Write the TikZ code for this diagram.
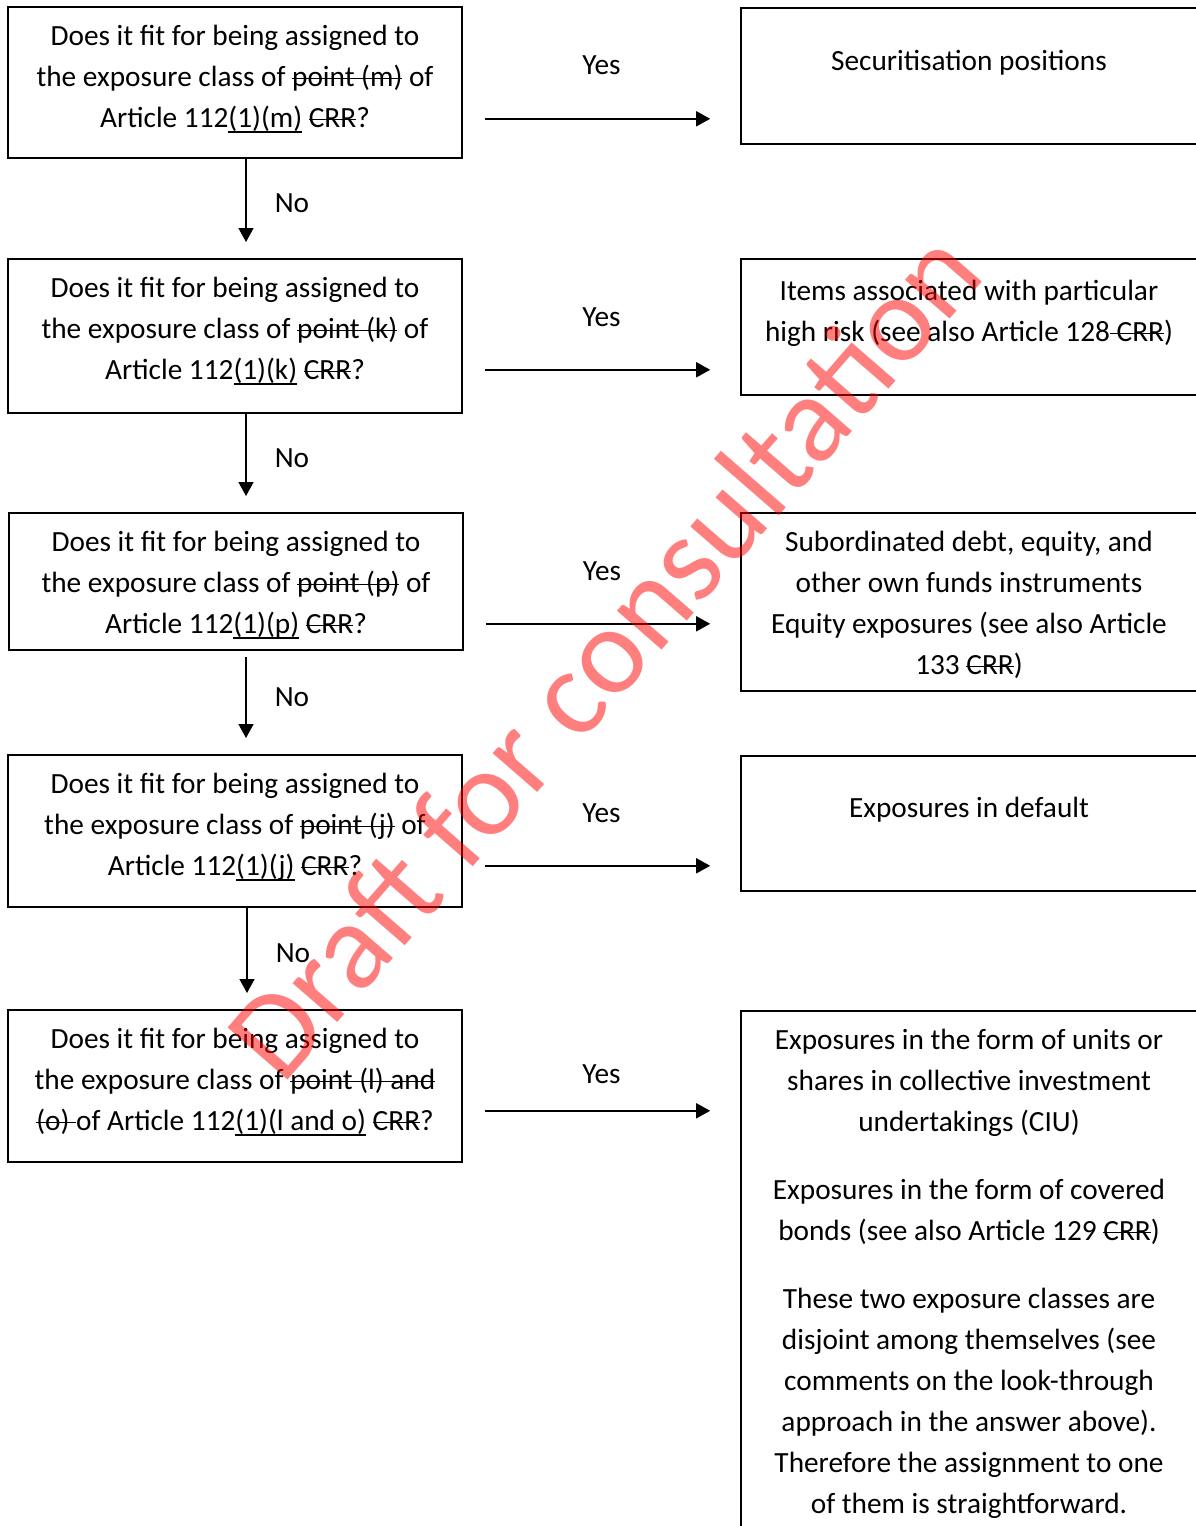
\documentclass[tikz,border=0pt]{standalone}
\usepackage{fontspec}
\setmainfont{Carlito}
\usetikzlibrary{arrows.meta}
\newcommand{\strk}[1]{\leavevmode\setbox0\hbox{#1}\rlap{\rule[.55ex]{\wd0}{1.5pt}}\box0\relax}
\newcommand{\undl}[1]{\leavevmode\setbox0\hbox{#1}\rlap{\rule[-5pt]{\wd0}{1.5pt}}\box0\relax}

\begin{document}
\begin{tikzpicture}[x=1pt,y=-1pt,
  font=\fontsize{29.3}{41}\selectfont,
  ques/.style={draw,line width=1.6pt,anchor=north,inner sep=0pt,text width=454pt,align=flush center},
  ans/.style={draw,line width=1.6pt,anchor=north,inner sep=0pt,text width=456pt,align=flush center},
  noarr/.style={line width=1.6pt,-{Triangle[length=14pt,width=15pt]},shorten >=16pt},
  yesarr/.style={line width=1.6pt,-{Triangle[length=14pt,width=15pt]},shorten <=22pt,shorten >=30pt}]
\useasboundingbox (0,0) rectangle (1195,1526);

% questions
\node[ques,text height=39pt,text depth=112pt] (q1) at (235,6) {Does it fit for being assigned to\\ the exposure class of \strk{point (m)} of\\ Article 112\undl{(1)(m)} \strk{CRR}?};
\node[ques,text height=39pt,text depth=115pt] (q2) at (235,258) {Does it fit for being assigned to\\ the exposure class of \strk{point (k)} of\\ Article 112\undl{(1)(k)} \strk{CRR}?};
\node[ques,text height=39pt,text depth=98pt] (q3) at (236,512) {Does it fit for being assigned to\\ the exposure class of \strk{point (p)} of\\ Article 112\undl{(1)(p)} \strk{CRR}?};
\node[ques,text height=39pt,text depth=113pt] (q4) at (235,754) {Does it fit for being assigned to\\ the exposure class of \strk{point (j)} of\\ Article 112\undl{(1)(j)} \strk{CRR}?};
\node[ques,text height=39pt,text depth=113pt] (q5) at (235,1009) {Does it fit for being assigned to\\ the exposure class of \strk{point (l) and}\\ \strk{(o) }of Article 112\undl{(1)(l and o)} \strk{CRR}?};

% answers
\node[ans,text height=63pt,text depth=73pt] (r1) at (969,7) {Securitisation positions};
\node[ans,text height=42pt,text depth=94pt] (r2) at (969,258) {Items associated with particular\\ high risk (see also Article 128\strk{ CRR})};
\node[ans,text height=39pt,text depth=139pt] (r3) at (969,512) {Subordinated debt, equity, and\\ other own funds instruments\\ Equity exposures (see also Article\\ 133 \strk{CRR})};
\node[ans,text height=62pt,text depth=73pt] (r4) at (969,755) {Exposures in default};
\node[ans,text height=39pt,text depth=520pt] (r5) at (969,1010) {Exposures in the form of units or\\ shares in collective investment\\ undertakings (CIU)\\[27pt] Exposures in the form of covered\\ bonds (see also Article 129 \strk{CRR})\\[27pt] These two exposure classes are\\ disjoint among themselves (see\\ comments on the look-through\\ approach in the answer above).\\ Therefore the assignment to one\\ of them is straightforward.};

% no
\draw[noarr] ([xshift=11pt]q1.south) -- ([xshift=11pt]q2.north) node[pos=.45,xshift=46pt] {No};
\draw[noarr] ([xshift=11pt]q2.south) -- ([xshift=10pt]q3.north) node[pos=.45,xshift=46pt] {No};
\draw[noarr,shorten <=6pt] ([xshift=10pt]q3.south) -- ([xshift=11pt]q4.north) node[pos=.45,xshift=46pt] {No};
\draw[noarr] ([xshift=12pt]q4.south) -- ([xshift=12pt]q5.north) node[pos=.45,xshift=46pt] {No};

% yes
\coordinate (y1) at ([yshift=-36.5pt]q1.east);
\coordinate (y2) at ([yshift=-34pt]q2.east);
\coordinate (y3) at ([yshift=-42.5pt]q3.east);
\coordinate (y4) at ([yshift=-35pt]q4.east);
\coordinate (y5) at ([yshift=-25pt]q5.east);
\draw[yesarr] (y1) -- (y1 -| r1.west) node[midway,yshift=54pt] {Yes};
\draw[yesarr] (y2) -- (y2 -| r2.west) node[midway,yshift=53pt] {Yes};
\draw[yesarr] (y3) -- (y3 -| r3.west) node[midway,yshift=53pt] {Yes};
\draw[yesarr] (y4) -- (y4 -| r4.west) node[midway,yshift=53pt] {Yes};
\draw[yesarr] (y5) -- (y5 -| r5.west) node[midway,yshift=37pt] {Yes};

% watermark
\node[rotate=49,text=red,opacity=.5,font=\fontsize{124}{140}\selectfont] (wm) at (603,653) {Draft for consultation};
\end{tikzpicture}
\end{document}
